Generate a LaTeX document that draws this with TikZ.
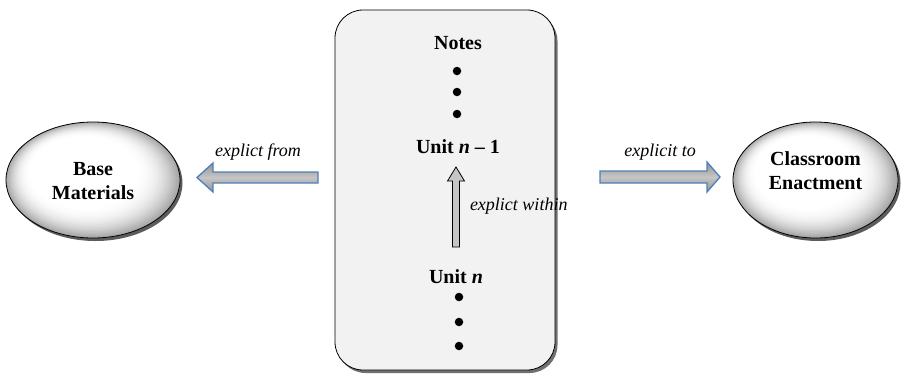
\documentclass[tikz,border=0pt]{standalone}
\usepackage{fontspec}
\setmainfont{Liberation Serif}
\usetikzlibrary{shadows,calc}
\definecolor{arrowblue}{HTML}{4F7FB8}
\definecolor{panelgray}{HTML}{F2F2F2}
\newcommand{\myovalfill}[4]{%
  \foreach \i in {0,...,24}{%
    \pgfmathsetmacro\tt{\i/24}%
    \pgfmathsetmacro\ss{1-0.40*\tt}%
    \pgfmathsetmacro\pc{70*(1-\tt)^2.2}%
    \fill[gray!\pc] ($(#1,#2)+(-10*\tt,-8*\tt)$) ellipse [x radius=\ss*#3, y radius=\ss*#4];
  }}
\tikzset{
  every node/.style={inner sep=0pt, outer sep=0pt},
  bigtxt/.style={font=\fontsize{20}{24}\selectfont\bfseries, align=center},
  labtxt/.style={font=\fontsize{18}{21}\selectfont\itshape},
  ovalbase/.style={fill=gray!70,
    drop shadow={shadow xshift=2.5pt, shadow yshift=-3pt, fill=black!80, opacity=0.8}},
  ovalline/.style={draw=black, line width=0.8pt},
  panel/.style={draw=black, line width=0.8pt, fill=panelgray, rounded corners=28pt,
    drop shadow={shadow xshift=2.5pt, shadow yshift=-3pt, fill=black!75, opacity=0.75}},
  fatarrow/.style={draw=arrowblue, line width=1.3pt, line join=miter, top color=gray!85, bottom color=gray!85, middle color=gray!45},
  thinarrow/.style={draw=black, line width=0.8pt, fill=gray!45},
  dotmark/.style={circle, fill=black, minimum size=8.5pt}
}
\begin{document}
\begin{tikzpicture}[x=1pt,y=-1pt]
\useasboundingbox (0,0) rectangle (905,378);
% ellipses
\fill[ovalbase] (93,180) ellipse [x radius=87, y radius=58];
\begin{scope}
  \clip (93,180) ellipse [x radius=87, y radius=58];
  \myovalfill{93}{180}{87}{58}
\end{scope}
\draw[ovalline] (93,180) ellipse [x radius=87, y radius=58];
\node[bigtxt] (base) at (93,181) {Base\\Materials};
\fill[ovalbase] (815.5,180) ellipse [x radius=82.5, y radius=58];
\begin{scope}
  \clip (815.5,180) ellipse [x radius=82.5, y radius=58];
  \myovalfill{815.5}{180}{82.5}{58}
\end{scope}
\draw[ovalline] (815.5,180) ellipse [x radius=82.5, y radius=58];
\node[bigtxt] (class) at (815.5,171) {Classroom\\Enactment};
% central panel
\draw[panel] (335,10) rectangle (555,370);
\node[bigtxt] (notes) at (458,43) {Notes};
\node[dotmark] (d1) at (457,71) {};
\node[dotmark] (d2) at (457,92) {};
\node[dotmark] (d3) at (457,114) {};
\node[bigtxt] (unitm) at (458,147) {Unit \textit{n} – 1};
\node[bigtxt] (unitn) at (456,277) {Unit \textit{n}};
\node[dotmark] (d4) at (459,297) {};
\node[dotmark] (d5) at (459,322) {};
\node[dotmark] (d6) at (459,346) {};
% within arrow
\coordinate (wt) at (456,167);
\coordinate (wb) at (456,247);
\draw[thinarrow] ($(wb)+(-3.5,0)$) -- ($(wb)+(3.5,0)$) -- ($(wt)+(3.5,14)$) -- ($(wt)+(8.5,14)$)
  -- (wt) -- ($(wt)+(-8.5,14)$) -- ($(wt)+(-3.5,14)$) -- cycle;
\node[labtxt, anchor=west] (within) at (470,206) {explict within};
% from arrow
\coordinate (ft) at (318,177.5);
\coordinate (fh) at (197,177.5);
\draw[fatarrow] ($(ft)+(0,-5.5)$) -- ($(fh)+(16,-5.5)$) -- ($(fh)+(16,-14.5)$) -- (fh)
  -- ($(fh)+(16,14.5)$) -- ($(fh)+(16,5.5)$) -- ($(ft)+(0,5.5)$) -- cycle;
\node[labtxt] (from) at (258,152) {explict from};
% to arrow
\coordinate (tt) at (600,177);
\coordinate (th) at (720,177);
\draw[fatarrow] ($(tt)+(0,-6)$) -- ($(th)+(-13,-6)$) -- ($(th)+(-13,-15)$) -- (th)
  -- ($(th)+(-13,15)$) -- ($(th)+(-13,6)$) -- ($(tt)+(0,6)$) -- cycle;
\node[labtxt] (to) at (660,152) {explicit to};
\end{tikzpicture}
\end{document}
